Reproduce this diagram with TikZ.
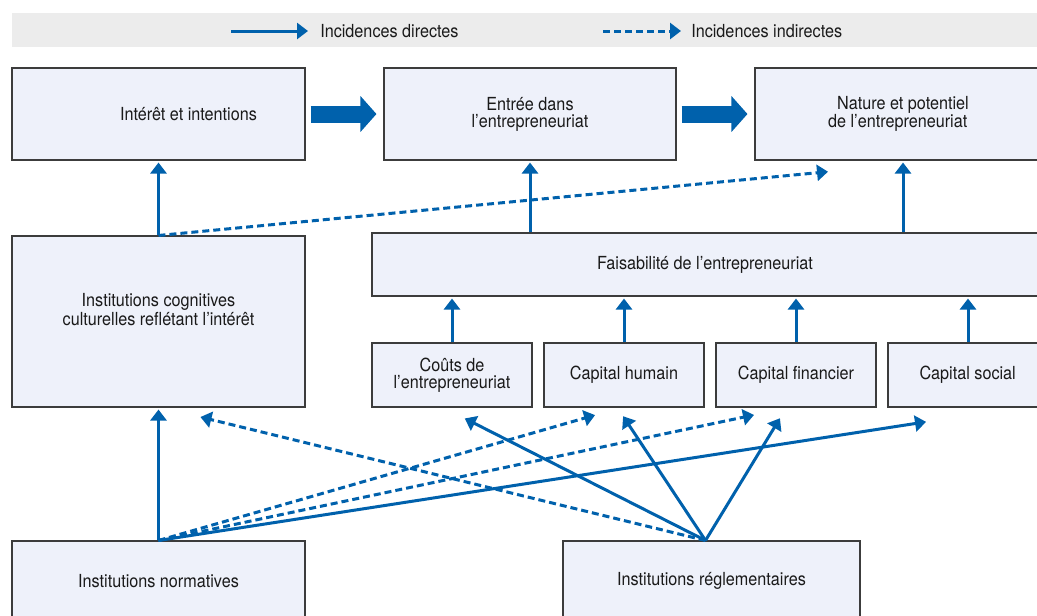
\documentclass[tikz,border=0pt]{standalone}
\usepackage{fontspec}
\setmainfont{TeX Gyre Heros}[FakeStretch=0.9]
\usetikzlibrary{arrows.meta,calc,positioning}
\definecolor{bleu}{HTML}{0061AC}
\definecolor{fond}{HTML}{EEF1FA}
\definecolor{cadre}{HTML}{3C3C3C}
\definecolor{gris}{HTML}{ECECEC}
\definecolor{encre}{HTML}{1A1A1A}
\newcommand{\pxu}{0.75pt}
\tikzset{
  texte/.style={text=encre, inner sep=0pt, font=\fontsize{13.5}{12.75}\selectfont},
  boite/.style 2 args={texte, draw=cadre, line width=0.8pt, fill=fond, align=center,
    minimum width=#1*\pxu, minimum height=#2*\pxu},
  direct/.style={bleu, line width=2.25pt, -{Triangle[length=8.25pt,width=12pt]}, shorten >=1.5pt},
  indirect/.style={direct, dash pattern=on 5.25pt off 3pt},
  large/.style={bleu, line width=12.75pt, -{Triangle[length=12pt,width=26.25pt]},
    shorten <=3.75pt, shorten >=5.25pt},
}

\begin{document}
\begin{tikzpicture}[x=0.75pt, y=-0.75pt]
  \useasboundingbox (0,0) rectangle (1037,615);
  \clip (0,0) rectangle (1037,615);
  % Legende
  \fill[gris] (12,13) rectangle (1045,47);
  \node[texte, anchor=west] (ldirect) at (320,31) {Incidences directes};
  \node[texte, anchor=west] (lindirect) at (691,31) {Incidences indirectes};
  \coordinate (ld) at (231,31);
  \coordinate (li) at (603,31);
  \draw[direct, shorten >=9pt] (ld) -- (ldirect.west);
  \draw[indirect, shorten >=7.5pt] (li) -- (lindirect.west);
  % Rangee du haut
  \node[boite={293}{92}] (interet) at (158.5,114) {\hspace*{45pt}Intérêt et intentions};
  \node[boite={292}{92}] (entree) at (530,114) {Entrée dans\\l’entrepreneuriat};
  \node[boite={296}{92}] (nature) at (903,114) {Nature et potentiel\\de l’entrepreneuriat\hspace*{8pt}};
  \draw[large] (interet.east) -- (entree.west);
  \draw[large] (entree.east) -- (nature.west);
  % Institutions cognitives et faisabilite
  \node[boite={293}{171}, text depth=18pt] (cognitives) at (158.5,321.5) {Institutions cognitives\\culturelles reflétant l’intérêt};
  \node[boite={678}{63}] (faisabilite) at (711,264.5) {Faisabilité de l’entrepreneuriat\hspace*{9pt}};
  \node[boite={160}{64}] (couts) at (452,375) {Coûts de\\l’entrepreneuriat};
  \node[boite={160}{64}] (humain) at (624,375) {Capital humain};
  \node[boite={160}{64}] (financier) at (796,375) {Capital financier};
  \node[boite={170}{64}] (social) at (973,375) {Capital social\hspace*{8pt}};
  % Institutions du bas
  \node[boite={293}{80}] (normatives) at (158.5,581) {Institutions normatives};
  \node[boite={297}{80}] (reglementaires) at (711.5,581) {Institutions réglementaires};
  % Fleches vers le haut
  \draw[direct] (cognitives.north) -- (interet.south);
  \coordinate (pNature) at ($(nature.south)+(-73,11)$);
  \draw[indirect] (cognitives.north) -- (pNature);
  \draw[direct] (faisabilite.north -| entree.south) -- (entree.south);
  \draw[direct] (faisabilite.north -| nature.south) -- (nature.south);
  \draw[direct] ($(social.north)+(-5,0)$) -- ($(social.north |- faisabilite.south)+(-5,0)$);
  \draw[direct] (couts.north) -- (couts.north |- faisabilite.south);
  \draw[direct] (humain.north) -- (humain.north |- faisabilite.south);
  \draw[direct] (financier.north) -- (financier.north |- faisabilite.south);
  % Depuis les institutions normatives
  \coordinate (hN) at ($(humain.south)+(-27,7)$);
  \coordinate (fN) at ($(financier.south)+(-40,7)$);
  \coordinate (sN) at ($(social.south)+(-45,14)$);
  \draw[direct] (normatives.north) -- (cognitives.south);
  \draw[indirect] (normatives.north) -- (hN);
  \draw[indirect] (normatives.north) -- (fN);
  \draw[direct] (normatives.north) -- (sN);
  % Depuis les institutions reglementaires
  \coordinate (oR) at ($(reglementaires.north)+(-6,0)$);
  \coordinate (cR) at ($(couts.south)+(11,10)$);
  \coordinate (hR) at ($(humain.south)+(-2,7)$);
  \coordinate (fR) at ($(financier.south)+(-15,9)$);
  \coordinate (gR) at ($(cognitives.south)+(40,9)$);
  \draw[direct] (oR) -- (cR);
  \draw[direct] (oR) -- (hR);
  \draw[direct] (oR) -- (fR);
  \draw[indirect] (oR) -- (gR);
\end{tikzpicture}
\end{document}
